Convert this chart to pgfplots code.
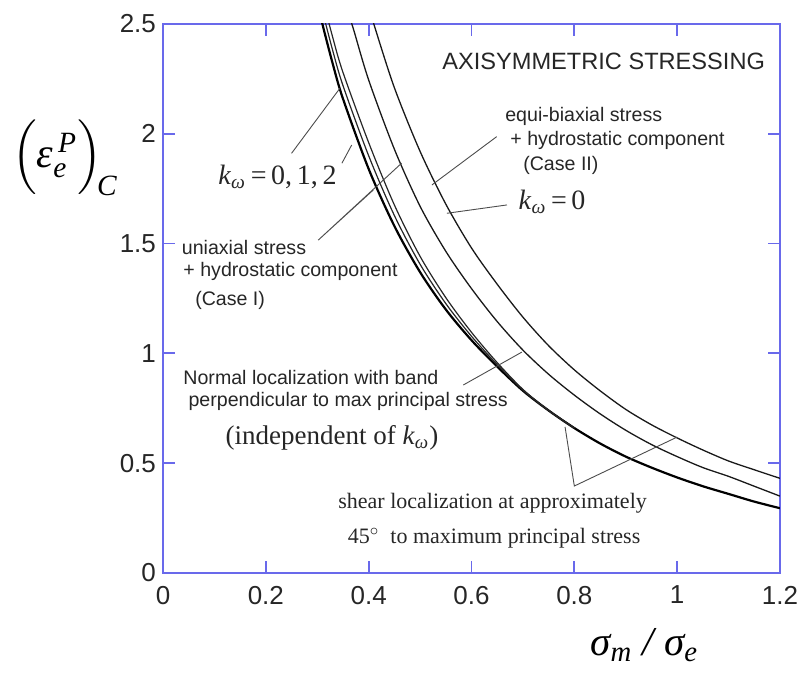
\documentclass[border=0pt]{standalone}
\usepackage{fontspec}
\setmainfont{Liberation Sans}
\newfontfamily\tnr{Liberation Serif}
\usepackage{amsmath}
\usepackage{pgfplots}
\usepackage{pgfplotstable}
\pgfplotsset{compat=1.18}
\definecolor{axblue}{RGB}{105,105,235}
\newcommand\ti[1]{\text{\tnr\itshape #1}}
\newcommand\kw{\textit{k}\ensuremath{_{\ti{ω}}}}
\tikzset{
  ann/.style={font=\fontsize{9.8}{10}\selectfont, inner sep=0pt, text=black!85, anchor=west},
  kk/.style={font=\fontsize{14}{14}\selectfont\tnr, inner sep=0pt, text=black!85, anchor=west},
  an/.style={black!70, line width=0.45pt},
}

\pgfplotstableread{
x y
0.30 2.60
0.31 2.50
0.33 2.32
0.35 2.16
0.40 1.84
0.45 1.58
0.50 1.37
0.55 1.20
0.60 1.06
0.65 0.94
0.70 0.83
0.75 0.74
0.80 0.66
0.85 0.59
0.90 0.53
0.95 0.48
1.00 0.435
1.05 0.395
1.10 0.36
1.15 0.325
1.20 0.295
}\tblbandA
\pgfplotstableread{
x y
0.30 2.66
0.31 2.56
0.33 2.38
0.35 2.22
0.40 1.90
0.45 1.628
0.50 1.406
0.55 1.227
0.60 1.078
0.65 0.949
0.70 0.833
0.75 0.74
0.80 0.66
}\tblbandB
\pgfplotstableread{
x y
0.30 2.72
0.31 2.62
0.33 2.44
0.35 2.28
0.40 1.96
0.45 1.676
0.50 1.442
0.55 1.254
0.60 1.096
0.65 0.958
0.70 0.836
0.75 0.74
0.80 0.66
}\tblbandC
\pgfplotstableread{
x y
0.36 2.55
0.37 2.48
0.40 2.245
0.45 1.93
0.50 1.67
0.55 1.465
0.60 1.295
0.65 1.145
0.70 1.015
0.75 0.905
0.80 0.81
0.85 0.725
0.90 0.65
0.95 0.585
1.00 0.53
1.05 0.48
1.10 0.44
1.15 0.395
1.20 0.35
}\tblmiddle
\pgfplotstableread{
x y
0.40 2.58
0.41 2.50
0.45 2.21
0.50 1.92
0.55 1.68
0.60 1.48
0.65 1.315
0.70 1.165
0.75 1.035
0.80 0.925
0.85 0.83
0.90 0.745
0.95 0.675
1.00 0.615
1.05 0.56
1.10 0.51
1.15 0.47
1.20 0.431
}\tbltopc

\begin{document}
\begin{tikzpicture}
\begin{axis}[
  scale only axis, width=308.5pt, height=274.5pt,
  xmin=0, xmax=1.2, ymin=0, ymax=2.5,
  xtick={0,0.2,0.4,0.6,0.8,1,1.2},
  ytick={0,0.5,1,1.5,2,2.5},
  tick align=inside, tick pos=both,
  major tick length=6pt,
  axis line style={axblue, line width=0.9pt},
  tick style={axblue, line width=0.9pt},
  tick label style={font=\fontsize{13}{13}\selectfont, text=black!85},
  /pgf/number format/assume math mode=true,
  xticklabel style={yshift=-3pt},
  xlabel={\fontsize{20.5}{21}\selectfont\tnr\itshape σ\ensuremath{_{\ti{m}}}\ / σ\ensuremath{_{\ti{e}}}},
  ylabel={\fontsize{21}{21}\selectfont$\Big(\ti{ε}^{\,\ti{P}}_{\ti{e}}\Big)_{\!\ti{C}}$},
  every axis x label/.style={at={(axis description cs:0.78,-0.132)}, anchor=center},
  every axis y label/.style={at={(axis description cs:-0.159,0.756)}, anchor=center},
]
\addplot[black, line width=1.1pt, smooth] table {\tblbandA};
\addplot[black!85, line width=0.6pt, smooth] table {\tblbandB};
\addplot[black!85, line width=0.6pt, smooth] table {\tblbandC};
\addplot[black!90, line width=0.65pt, smooth] table {\tblmiddle};
\addplot[black!90, line width=0.65pt, smooth] table {\tbltopc};

% annotation lines
\draw[an] (0.250,1.911) -- (0.344,2.207);
\draw[an] (0.348,1.866) -- (0.367,1.949);
\draw[an] (0.409,1.744) -- (0.302,1.516) -- (0.464,1.866);
\draw[an] (0.649,1.987) -- (0.523,1.767);
\draw[an] (0.669,1.676) -- (0.552,1.638);
\draw[an] (0.584,0.856) -- (0.698,1.006);
\draw[an] (0.782,0.665) -- (0.800,0.396) -- (1.0,0.619);

% texts
\node[font=\fontsize{11.8}{12}\selectfont, text=black!85] at (0.857,2.328) {AXISYMMETRIC STRESSING};
\node[ann] at (0.665,2.081) {equi-biaxial stress};
\node[ann] at (0.675,1.972) {+ hydrostatic component};
\node[ann] at (0.700,1.858) {(Case II)};
\node[kk] at (0.691,1.69) {\kw\,=\,0};
\node[ann] at (0.036,1.480) {uniaxial stress};
\node[ann] at (0.039,1.372) {+ hydrostatic component};
\node[ann] at (0.062,1.243) {(Case I)};
\node[kk] at (0.107,1.805) {\kw\,=\,0,\,1,\,2};
\node[ann] at (0.039,0.888) {Normal localization with band};
\node[ann] at (0.049,0.780) {perpendicular to max principal stress};
\node[kk, font=\fontsize{13.5}{14}\selectfont\tnr] at (0.121,0.615) {(independent of \kw)};
\node[font=\fontsize{11}{11}\selectfont\tnr, text=black!85] at (0.641,0.319) {shear localization at approximately};
\node[font=\fontsize{11}{11}\selectfont\tnr, text=black!85] at (0.644,0.159) {45$^{\circ}$\ \ to maximum principal stress};
\end{axis}
\pgfresetboundingbox
\path ([shift={(-81.5pt,-50pt)}]current axis.south west) rectangle ([shift={(12.5pt,12pt)}]current axis.north east);
\end{tikzpicture}
\end{document}
